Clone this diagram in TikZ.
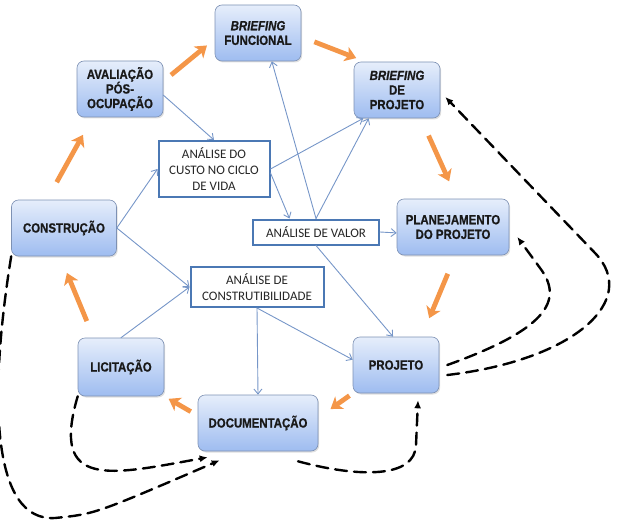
\documentclass[tikz,border=0pt]{standalone}
\usepackage{fontspec}
\newfontfamily\boxfont[FakeStretch=0.86,BoldFeatures={FakeBold=0.8},BoldItalicFeatures={FakeBold=0.8}]{Liberation Sans}
\newfontfamily\rectfont{Carlito}
\usetikzlibrary{arrows.meta,shadows}
\definecolor{boxtop}{RGB}{230,238,251}
\definecolor{boxbot}{RGB}{158,188,240}
\definecolor{boxline}{RGB}{125,145,180}
\definecolor{rectline}{RGB}{75,120,180}
\definecolor{linkblue}{RGB}{118,150,200}
\definecolor{steporange}{RGB}{244,150,72}

\begin{document}
\begin{tikzpicture}[x=1pt,y=-1pt,line cap=round,
  phase/.style={draw=boxline,line width=0.6pt,rounded corners=7pt,top color=boxtop,bottom color=boxbot,
    drop shadow={opacity=0.25,shadow xshift=1.2pt,shadow yshift=-1.5pt},
    minimum width=86pt,minimum height=56pt,inner sep=2pt,align=center,
    font=\boxfont\bfseries\fontsize{13.3}{14.6}\selectfont,text=black!90},
  tool/.style={draw=rectline,line width=2pt,fill=white,align=center,inner sep=2pt,
    font=\rectfont\fontsize{13}{16}\selectfont,text=black!85},
  cyclearrow/.style={draw=steporange,line width=4.8pt,line cap=butt,-{Stealth[length=11pt,width=15pt,inset=3pt]}},
  link/.style={draw=linkblue,line width=0.9pt,-{Straight Barb[length=5pt,width=8pt]}},
  feedback/.style={draw=black,line width=2.4pt,dash pattern=on 12pt off 7pt,-{Latex[length=8pt,width=7pt]}}]
\useasboundingbox (0,0) rectangle (617,521);
\node[phase] (bfunc) at (258,33) {{\itshape BRIEFING}\\FUNCIONAL};
\node[phase] (bproj) at (397,90) {{\itshape BRIEFING}\\DE\\PROJETO};
\node[phase] (aval) at (120,89) {AVALIAÇÃO\\PÓS-\\OCUPAÇÃO};
\node[phase,minimum width=112pt] (plan) at (453,227) {PLANEJAMENTO\\DO PROJETO};
\node[phase,minimum width=105pt] (constru) at (64,228) {CONSTRUÇÃO};
\node[phase,minimum height=58pt] (licit) at (121,367) {LICITAÇÃO};
\node[phase] (proj) at (396,365) {PROJETO};
\node[phase,minimum width=120pt] (doc) at (258,423) {DOCUMENTAÇÃO};
\node[tool,minimum width=111pt,minimum height=56pt] (custo) at (214,169) {ANÁLISE DO\\CUSTO NO CICLO\\DE VIDA};
\node[tool,minimum width=126pt,minimum height=25pt] (valor) at (316,232) {ANÁLISE DE VALOR};
\node[tool,minimum width=133pt,minimum height=40pt] (constr) at (257,287) {ANÁLISE DE\\CONSTRUTIBILIDADE};

\draw[cyclearrow,shorten <=10pt,shorten >=10pt] (aval.10) -- (bfunc.188);
\draw[cyclearrow,shorten <=14pt,shorten >=10pt] (bfunc.-5) -- (bproj.138);
\draw[cyclearrow,shorten <=19pt,shorten >=19pt] (bproj.-50) -- (plan.82);
\draw[cyclearrow,shorten <=20pt,shorten >=20pt] (plan.-85) -- (proj.48);
\draw[cyclearrow,shorten <=4pt,shorten >=15pt] (proj.south west) -- (doc.5);
\draw[cyclearrow,shorten <=8pt,shorten >=5pt] (doc.173) -- (licit.south east);
\draw[cyclearrow,shorten <=18pt,shorten >=18pt] (licit.133) -- (constru.262);
\draw[cyclearrow,shorten <=20pt,shorten >=20pt] (constru.121) -- (aval.226);

\draw[link] (aval.-8) -- (custo.north);
\draw[link] (constru.east) -- (custo.west);
\draw[link] (constru.east) -- (constr.west);
\draw[link] (licit.north) -- (constr.west);
\draw[link] (custo.east) -- (bproj.220);
\draw[link] (custo.-4) -- (valor.153);
\draw[link] (valor.north) -- (bproj.225);
\draw[link] (valor.north) -- (bfunc.-64);
\draw[link] (valor.east) -- (plan.186);
\draw[link] (valor.south) -- (proj.96);
\draw[link] (constr.south) -- (proj.173);
\draw[link] (constr.south) -- (doc.north);

\draw[feedback] (constru.south west) .. controls (-12,400) and (-8,522) .. (55,518) .. controls (95,514) .. ([shift={(22,9)}]doc.south west);
\draw[feedback] (licit.south west) .. controls (50,490) and (110,475) .. ([shift={(10,6)}]doc.south west);
\draw[feedback] ([shift={(40,10)}]doc.south) .. controls (360,478) and (415,478) .. (416,445) -- ([shift={(22,7)}]proj.south);
\draw[feedback] ([xshift=8]proj.east) .. controls (545,330) and (565,301) .. (540,268) -- ([shift={(8,10)}]plan.east);
\draw[feedback] ([shift={(8,10)}]proj.east) .. controls (575,360) and (640,300) .. (595,253) -- ([shift={(5,7)}]bproj.east);
\end{tikzpicture}
\end{document}
